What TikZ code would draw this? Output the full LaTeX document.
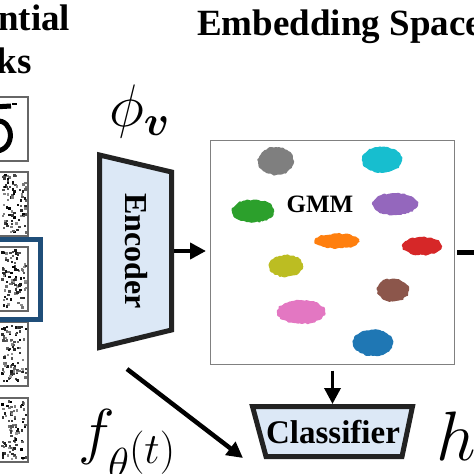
\RequirePackage{fix-cm}
\documentclass[tikz,border=0pt]{standalone}
\usepackage{amsmath}
\usepackage[no-math]{fontspec}
\setmainfont{Liberation Serif}
\usetikzlibrary{arrows.meta,decorations.pathmorphing}

\definecolor{encfill}{RGB}{220,232,246}
\definecolor{encline}{RGB}{34,34,34}
\definecolor{hlblue}{RGB}{31,78,121}
\definecolor{cgray}{RGB}{127,127,127}
\definecolor{ccyan}{RGB}{23,190,207}
\definecolor{cgreen}{RGB}{44,160,44}
\definecolor{cpurple}{RGB}{148,103,189}
\definecolor{corange}{RGB}{255,127,14}
\definecolor{cred}{RGB}{214,39,40}
\definecolor{colive}{RGB}{188,189,34}
\definecolor{cbrown}{RGB}{140,86,75}
\definecolor{cpink}{RGB}{227,119,194}
\definecolor{cblue}{RGB}{31,119,180}

\tikzset{
  heading/.style={inner sep=0, font=\fontsize{37}{41}\selectfont\bfseries},
  boxtext/.style={inner sep=0, font=\fontsize{32}{36}\selectfont\bfseries},
  panel/.style={draw=black!60, line width=1.5pt},
  block/.style={draw=encline, fill=encfill, line width=5pt, line join=miter},
  flow/.style={line width=4.5pt, -{Triangle[length=16pt,width=16pt]}},
  blobedge/.style={decorate, decoration={random steps, segment length=2pt, amplitude=0.9pt}, rounded corners=0.6pt}
}
\newcommand{\cluster}[5]{\fill[#1, blobedge] (#2,#3) ellipse ({#4pt} and {#5pt});}

\begin{document}
\begin{tikzpicture}[x=1pt,y=-1pt]
    \useasboundingbox (0,0) rectangle (474,474);

    % titles
    \node[heading, anchor=base] (seq) at (-13,30) {Sequential};
    \node[heading, anchor=base] (tasks) at (-13,73) {Tasks};
    \node[heading, anchor=base west] (emb) at (197,35) {Embedding Space};

    % task images
    \foreach \top in {97,172,247,322,398}
        \draw[panel] (-36,\top) rectangle (28,\top+64);
    \draw[line width=5pt] (-6,107) -- (11,106);
    \draw[line width=2.5pt] (12,104) -- (17,104);
    \draw[line width=5pt] (-4,121) .. controls (14,119) and (16,149) .. (-3,151);
    \pgfmathsetseed{42}
    \foreach \top in {172,247,322,398}{
        \foreach \i in {1,...,85}{
            \pgfmathsetmacro\px{1+rnd*24}
            \pgfmathsetmacro\py{\top+2+rnd*58}
            \pgfmathsetmacro\sh{40+rnd*60}
            \fill[black!\sh] (\px,\py) rectangle ++(2.4,2.4);
        }
    }
    \draw[hlblue, line width=5pt] (-10,239.5) rectangle (40.5,319.5);

    % encoder
    \filldraw[block] (99.5,155) -- (171.5,172) -- (171.5,330) -- (99.5,347.5) -- cycle;
    \node[boxtext, rotate=-90] (enc) at (136,251) {Encoder};
    \coordinate (enc-out) at (174,251);
    \node[inner sep=0, anchor=base west, font=\fontsize{60}{62}\selectfont] (phi) at (109,126) {$\phi_{\boldsymbol{v}}$};

    % embedding space
    \node[draw=black!50, line width=1pt, minimum width=244pt, minimum height=224pt, inner sep=0] (space) at (332.5,252) {};
    \cluster{cgray}{276}{161}{18}{14}
    \cluster{ccyan}{382}{160}{20}{13}
    \cluster{cgreen}{253}{211}{21}{11.5}
    \cluster{cpurple}{395}{204}{23}{11}
    \cluster{corange}{337}{241}{22}{7.5}
    \cluster{cred}{422}{246}{20}{9}
    \cluster{colive}{286}{266}{17}{11}
    \cluster{cbrown}{393}{290}{16}{11.5}
    \cluster{cpink}{301}{312}{24}{12}
    \cluster{cblue}{373}{343}{20}{13}
    \node[inner sep=0, font=\fontsize{25}{28}\selectfont\bfseries] (gmm) at (320,204) {GMM};

    % classifier
    \filldraw[block] (252.5,406.5) -- (412.5,406.5) -- (402,456.5) -- (266,456.5) -- cycle;
    \node[boxtext, font=\fontsize{33}{36}\selectfont\bfseries] (clf) at (333,432) {Classifier};
    \coordinate (clf-top) at (332.5,404);
    \node[inner sep=0, anchor=base west, font=\fontsize{62}{64}\selectfont] (f) at (78,452) {$f_{\theta^{\scriptstyle(t)}}$};
    \node[inner sep=0, anchor=base west, font=\fontsize{70}{72}\selectfont] (h) at (436,460) {$h$};

    % connectors
    \coordinate (f-start) at (127,369);
    \coordinate (f-end) at (243,458);
    \coordinate (out) at (480,252);
    \draw[flow, shorten >=4pt] (enc-out) -- (space.west |- enc-out);
    \draw[flow, line width=3.5pt, shorten <=6pt] (space.south) -- (clf-top);
    \draw[flow] (f-start) -- (f-end);
    \draw[line width=5pt, shorten <=2pt] (space.east) -- (out);
\end{tikzpicture}
\end{document}
